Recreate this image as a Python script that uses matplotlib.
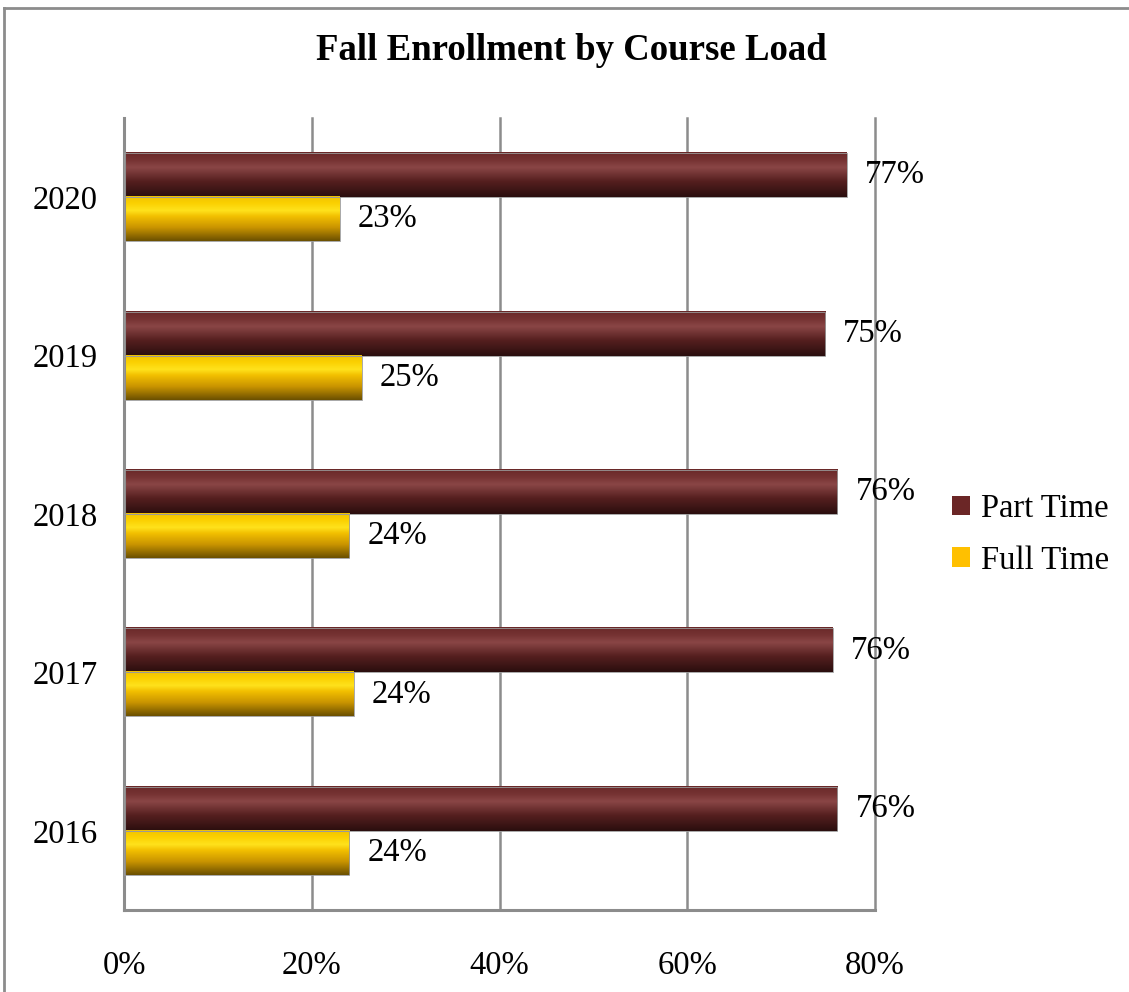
import numpy as np
import matplotlib.pyplot as plt
from matplotlib.colors import LinearSegmentedColormap
from matplotlib.patches import Patch
from matplotlib.lines import Line2D

plt.rcParams['font.family'] = ['Liberation Serif', 'DejaVu Serif']

years = ["2016", "2017", "2018", "2019", "2020"]
part_time = [76.0, 75.5, 76.0, 74.7, 77.0]
full_time = [24.0, 24.5, 24.0, 25.3, 23.0]

maroon = "#6b2626"
gold = "#ffc000"

# bottom -> top shading, mimicking the Excel "cylinder" bars
maroon_cmap = LinearSegmentedColormap.from_list(
    "maroon", [(0.0, "#2a0e0e"), (0.35, "#551f1f"), (0.66, "#8a4646"),
               (0.82, "#763333"), (1.0, "#692828")])
gold_cmap = LinearSegmentedColormap.from_list(
    "gold", [(0.0, "#6a4f00"), (0.3, "#c99400"), (0.55, "#f2bf00"),
             (0.68, "#ffe21c"), (0.85, "#fbd000"), (1.0, "#f0c200")])

fs = 23.5

fig = plt.figure(figsize=(11.29, 9.92), dpi=100)
ax = fig.add_axes([124 / 1129, 1 - 910 / 992, 751 / 1129, 792 / 992])

y = np.arange(len(years))
h = 0.278
bars_pt = ax.barh(y + h / 2, part_time, height=h, color=maroon)
bars_ft = ax.barh(y - h / 2, full_time, height=h, color=gold)

grad = np.linspace(0, 1, 256).reshape(-1, 1)
for bars, cmap in [(bars_pt, maroon_cmap), (bars_ft, gold_cmap)]:
    for b in bars:
        x0, y0 = b.get_x(), b.get_y()
        w, hh = b.get_width(), b.get_height()
        ax.imshow(grad, cmap=cmap, origin="lower", aspect="auto",
                  extent=[x0, x0 + w, y0, y0 + hh], zorder=2,
                  interpolation="bilinear")
        b.set_edgecolor("#9a9a9a")
        b.set_linewidth(0.6)
        b.set_facecolor("none")
        b.set_zorder(3)

for bars, vals in [(bars_pt, part_time), (bars_ft, full_time)]:
    for b, v in zip(bars, vals):
        ax.annotate(f"{v:.0f}%", (b.get_width(), b.get_y() + b.get_height() / 2),
                    xytext=(13, 0), textcoords="offset points",
                    ha="left", va="center", fontsize=fs)

ax.set_xlim(0, 80)
ax.set_ylim(-0.5, len(years) - 0.5)
ax.set_xticks([0, 20, 40, 60, 80])
ax.set_xticklabels([f"{t}%" for t in [0, 20, 40, 60, 80]])
ax.set_yticks(y)
ax.set_yticklabels(years)
ax.tick_params(axis="x", length=0, pad=29, labelsize=fs)
ax.tick_params(axis="y", length=0, pad=19, labelsize=fs)

ax.grid(axis="x", color="#8c8c8c", linewidth=1.8, zorder=0)
ax.set_axisbelow(True)
for gl in ax.get_xgridlines():
    gl.set_clip_on(False)
for s in ["top", "right"]:
    ax.spines[s].set_visible(False)
ax.spines["left"].set_color("#8c8c8c")
ax.spines["left"].set_linewidth(2.2)
ax.spines["bottom"].set_color("#8c8c8c")
ax.spines["bottom"].set_linewidth(2.2)

fig.text(571 / 1129, 1 - 51 / 992, "Fall Enrollment by Course Load",
         ha="center", va="center", fontsize=26.5, fontweight="bold")

handles = [Patch(facecolor=maroon, edgecolor="none", label="Part Time"),
           Patch(facecolor=gold, edgecolor="none", label="Full Time")]
fig.legend(handles=handles, loc="center left", bbox_to_anchor=(952 / 1129, 0.461),
           frameon=False, fontsize=fs, handlelength=0.55, handleheight=0.55,
           handletextpad=0.35, labelspacing=0.65, borderpad=0, borderaxespad=0)

# chart area border (left and top edges visible)
fig.add_artist(Line2D([4 / 1129, 4 / 1129], [0, 1 - 8 / 992], transform=fig.transFigure,
                      color="#8c8c8c", linewidth=2))
fig.add_artist(Line2D([4 / 1129, 1], [1 - 8 / 992, 1 - 8 / 992], transform=fig.transFigure,
                      color="#8c8c8c", linewidth=2))

fig.savefig("out.png", dpi=100)
